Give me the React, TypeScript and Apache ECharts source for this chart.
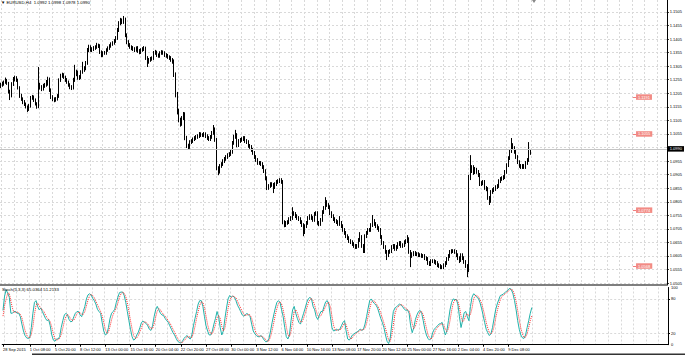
import React, { useEffect, useRef } from "react";
import * as echarts from "echarts";

// ---------- data ----------
const SLOTS = 423; // bar slots on the time axis (incl. empty chart shift area)

const tickIndex = [0, 17, 33, 49, 65, 81, 97, 113, 129, 145, 161, 177, 193, 209, 225, 241, 257, 273, 289, 305, 321];
const tickLabels = [
  "28 Sep 2015", "1 Oct 08:00", "5 Oct 20:00", "8 Oct 12:00", "13 Oct 00:00", "15 Oct 16:00",
  "20 Oct 04:00", "22 Oct 20:00", "27 Oct 08:00", "30 Oct 00:00", "3 Nov 12:00", "6 Nov 04:00",
  "10 Nov 16:00", "13 Nov 08:00", "17 Nov 20:00", "20 Nov 12:00", "25 Nov 00:00", "27 Nov 16:00",
  "2 Dec 04:00", "4 Dec 20:00", "9 Dec 08:00",
];

const priceTicks = [1.0505, 1.0555, 1.0605, 1.0655, 1.0705, 1.0755, 1.0805, 1.0855, 1.0905, 1.0955,
  1.1005, 1.1055, 1.1105, 1.1155, 1.1205, 1.1255, 1.1305, 1.1355, 1.1405, 1.1455, 1.1505];
const stochLabelValues = [0, 20, 80, 100];
const stochLevels = [20, 80];

const open = [
  1.1230,1.1236,1.1239,1.1247,1.1254,1.1243,1.1210,1.1195,1.1239,1.1258,
  1.1262,1.1254,1.1225,1.1195,1.1184,1.1173,1.1166,1.1155,1.1147,1.1158,
  1.1188,1.1191,1.1180,1.1166,1.1155,1.1236,1.1228,1.1221,1.1232,1.1236,
  1.1239,1.1258,1.1217,1.1191,1.1184,1.1180,1.1184,1.1195,1.1254,1.1269,
  1.1273,1.1265,1.1254,1.1247,1.1236,1.1228,1.1225,1.1254,1.1276,1.1284,
  1.1262,1.1265,1.1284,1.1291,1.1298,1.1317,1.1365,1.1376,1.1365,1.1368,
  1.1372,1.1376,1.1383,1.1380,1.1357,1.1346,1.1354,1.1354,1.1365,1.1372,
  1.1380,1.1387,1.1391,1.1398,1.1409,1.1439,1.1464,1.1475,1.1468,1.1479,
  1.1420,1.1394,1.1383,1.1376,1.1372,1.1368,1.1365,1.1372,1.1361,1.1357,
  1.1365,1.1368,1.1372,1.1335,1.1321,1.1328,1.1332,1.1335,1.1354,1.1357,
  1.1346,1.1343,1.1354,1.1357,1.1354,1.1346,1.1343,1.1339,1.1335,1.1328,
  1.1321,1.1273,1.1199,1.1136,1.1106,1.1092,1.1114,1.1129,1.1040,1.1011,
  1.1007,1.1025,1.1029,1.1036,1.1040,1.1044,1.1047,1.1055,1.1051,1.1051,
  1.1055,1.1047,1.1040,1.1036,1.1044,1.1059,1.1073,1.1033,1.0929,1.0915,
  1.0937,1.0944,1.0955,1.0963,1.0970,1.0977,1.0981,1.0989,1.1022,1.1044,
  1.1051,1.1014,1.1029,1.1033,1.1036,1.1040,1.1029,1.1025,1.1011,1.1007,
  1.0996,1.0985,1.0970,1.0959,1.0948,1.0948,1.0944,1.0933,1.0918,1.0892,
  1.0856,1.0863,1.0870,1.0867,1.0859,1.0870,1.0878,1.0881,1.0885,1.0878,
  1.0730,1.0719,1.0727,1.0730,1.0741,1.0745,1.0763,1.0760,1.0752,1.0745,
  1.0741,1.0730,1.0719,1.0693,1.0715,1.0727,1.0745,1.0752,1.0745,1.0738,
  1.0760,1.0763,1.0727,1.0723,1.0738,1.0767,1.0782,1.0804,1.0793,1.0785,
  1.0763,1.0752,1.0741,1.0734,1.0730,1.0723,1.0727,1.0715,1.0701,1.0690,
  1.0678,1.0671,1.0660,1.0656,1.0649,1.0642,1.0638,1.0642,1.0664,1.0675,
  1.0642,1.0623,1.0678,1.0690,1.0701,1.0701,1.0719,1.0734,1.0723,1.0715,
  1.0708,1.0701,1.0675,1.0653,1.0638,1.0620,1.0608,1.0620,1.0623,1.0638,
  1.0642,1.0631,1.0638,1.0649,1.0653,1.0642,1.0645,1.0656,1.0660,1.0667,
  1.0620,1.0605,1.0612,1.0616,1.0612,1.0612,1.0608,1.0608,1.0605,1.0605,
  1.0597,1.0594,1.0579,1.0575,1.0586,1.0586,1.0583,1.0579,1.0571,1.0568,
  1.0564,1.0564,1.0571,1.0579,1.0594,1.0605,1.0620,1.0623,1.0623,1.0620,
  1.0608,1.0597,1.0590,1.0608,1.0597,1.0583,1.0568,1.0553,1.0892,1.0922,
  1.0929,1.0915,1.0922,1.0915,1.0904,1.0870,1.0874,1.0878,1.0856,1.0852,
  1.0819,1.0808,1.0841,1.0848,1.0852,1.0859,1.0863,1.0881,1.0889,1.0892,
  1.0896,1.0915,1.0940,1.0966,1.0992,1.1014,1.1003,1.0989,1.0970,1.0951,
  1.0937,1.0933,1.0937,1.0933,1.0948,1.0959,1.0992,
];

const close = [
  1.1236,1.1239,1.1247,1.1254,1.1243,1.1210,1.1195,1.1239,1.1258,1.1262,
  1.1254,1.1225,1.1195,1.1184,1.1173,1.1166,1.1155,1.1147,1.1158,1.1188,
  1.1191,1.1180,1.1166,1.1155,1.1236,1.1228,1.1221,1.1232,1.1236,1.1239,
  1.1258,1.1217,1.1191,1.1184,1.1180,1.1184,1.1195,1.1254,1.1269,1.1273,
  1.1265,1.1254,1.1247,1.1236,1.1228,1.1225,1.1254,1.1276,1.1284,1.1262,
  1.1265,1.1284,1.1291,1.1298,1.1317,1.1365,1.1376,1.1365,1.1368,1.1372,
  1.1376,1.1383,1.1380,1.1357,1.1346,1.1354,1.1354,1.1365,1.1372,1.1380,
  1.1387,1.1391,1.1398,1.1409,1.1439,1.1464,1.1475,1.1468,1.1479,1.1420,
  1.1394,1.1383,1.1376,1.1372,1.1368,1.1365,1.1372,1.1361,1.1357,1.1365,
  1.1368,1.1372,1.1335,1.1321,1.1328,1.1332,1.1335,1.1354,1.1357,1.1346,
  1.1343,1.1354,1.1357,1.1354,1.1346,1.1343,1.1339,1.1335,1.1328,1.1321,
  1.1273,1.1199,1.1136,1.1106,1.1092,1.1114,1.1129,1.1040,1.1011,1.1007,
  1.1025,1.1029,1.1036,1.1040,1.1044,1.1047,1.1055,1.1051,1.1051,1.1055,
  1.1047,1.1040,1.1036,1.1044,1.1059,1.1073,1.1033,1.0929,1.0915,1.0937,
  1.0944,1.0955,1.0963,1.0970,1.0977,1.0981,1.0989,1.1022,1.1044,1.1051,
  1.1014,1.1029,1.1033,1.1036,1.1040,1.1029,1.1025,1.1011,1.1007,1.0996,
  1.0985,1.0970,1.0959,1.0948,1.0948,1.0944,1.0933,1.0918,1.0892,1.0856,
  1.0863,1.0870,1.0867,1.0859,1.0870,1.0878,1.0881,1.0885,1.0878,1.0730,
  1.0719,1.0727,1.0730,1.0741,1.0745,1.0763,1.0760,1.0752,1.0745,1.0741,
  1.0730,1.0719,1.0693,1.0715,1.0727,1.0745,1.0752,1.0745,1.0738,1.0760,
  1.0763,1.0727,1.0723,1.0738,1.0767,1.0782,1.0804,1.0793,1.0785,1.0763,
  1.0752,1.0741,1.0734,1.0730,1.0723,1.0727,1.0715,1.0701,1.0690,1.0678,
  1.0671,1.0660,1.0656,1.0649,1.0642,1.0638,1.0642,1.0664,1.0675,1.0642,
  1.0623,1.0678,1.0690,1.0701,1.0701,1.0719,1.0734,1.0723,1.0715,1.0708,
  1.0701,1.0675,1.0653,1.0638,1.0620,1.0608,1.0620,1.0623,1.0638,1.0642,
  1.0631,1.0638,1.0649,1.0653,1.0642,1.0645,1.0656,1.0660,1.0667,1.0620,
  1.0605,1.0612,1.0616,1.0612,1.0612,1.0608,1.0608,1.0605,1.0605,1.0597,
  1.0594,1.0579,1.0575,1.0586,1.0586,1.0583,1.0579,1.0571,1.0568,1.0564,
  1.0564,1.0571,1.0579,1.0594,1.0605,1.0620,1.0623,1.0623,1.0620,1.0608,
  1.0597,1.0590,1.0608,1.0597,1.0583,1.0568,1.0553,1.0892,1.0922,1.0929,
  1.0915,1.0922,1.0915,1.0904,1.0870,1.0874,1.0878,1.0856,1.0852,1.0819,
  1.0808,1.0841,1.0848,1.0852,1.0859,1.0863,1.0881,1.0889,1.0892,1.0896,
  1.0915,1.0940,1.0966,1.0992,1.1014,1.1003,1.0989,1.0970,1.0951,1.0937,
  1.0933,1.0937,1.0933,1.0948,1.0959,1.0992,1.0990,
];

const high = [
  1.1244,1.1248,1.1252,1.1263,1.1258,1.1247,1.1218,1.1246,1.1265,1.1270,
  1.1268,1.1259,1.1231,1.1203,1.1190,1.1180,1.1171,1.1160,1.1166,1.1195,
  1.1199,1.1197,1.1186,1.1172,1.1302,1.1244,1.1235,1.1240,1.1243,1.1254,
  1.1266,1.1263,1.1223,1.1198,1.1190,1.1191,1.1202,1.1260,1.1277,1.1281,
  1.1279,1.1270,1.1261,1.1252,1.1242,1.1235,1.1262,1.1310,1.1292,1.1289,
  1.1272,1.1290,1.1321,1.1305,1.1324,1.1372,1.1384,1.1382,1.1375,1.1379,
  1.1382,1.1391,1.1388,1.1386,1.1363,1.1360,1.1361,1.1371,1.1378,1.1386,
  1.1393,1.1397,1.1405,1.1416,1.1446,1.1471,1.1483,1.1481,1.1490,1.1484,
  1.1426,1.1401,1.1390,1.1382,1.1379,1.1375,1.1378,1.1379,1.1368,1.1371,
  1.1375,1.1379,1.1377,1.1342,1.1335,1.1339,1.1341,1.1361,1.1365,1.1362,
  1.1352,1.1360,1.1364,1.1363,1.1360,1.1353,1.1350,1.1345,1.1342,1.1335,
  1.1330,1.1282,1.1210,1.1148,1.1115,1.1121,1.1136,1.1135,1.1048,1.1019,
  1.1032,1.1036,1.1042,1.1047,1.1051,1.1054,1.1062,1.1061,1.1058,1.1062,
  1.1061,1.1054,1.1047,1.1051,1.1066,1.1088,1.1079,1.1040,1.0936,1.0944,
  1.0951,1.0962,1.0970,1.0977,1.0984,1.0988,1.0996,1.1029,1.1052,1.1070,
  1.1058,1.1036,1.1040,1.1043,1.1047,1.1047,1.1036,1.1032,1.1018,1.1014,
  1.1003,1.0992,1.0977,1.0966,1.0955,1.0955,1.0951,1.0940,1.0925,1.0899,
  1.0870,1.0877,1.0877,1.0874,1.0877,1.0885,1.0888,1.0892,1.0892,1.0885,
  1.0737,1.0734,1.0737,1.0748,1.0752,1.0785,1.0770,1.0767,1.0759,1.0752,
  1.0748,1.0737,1.0726,1.0722,1.0734,1.0752,1.0759,1.0759,1.0752,1.0767,
  1.0770,1.0770,1.0734,1.0745,1.0774,1.0789,1.0822,1.0811,1.0800,1.0792,
  1.0770,1.0759,1.0748,1.0741,1.0737,1.0752,1.0734,1.0722,1.0708,1.0697,
  1.0685,1.0678,1.0667,1.0663,1.0656,1.0649,1.0649,1.0671,1.0693,1.0682,
  1.0649,1.0685,1.0697,1.0708,1.0708,1.0726,1.0756,1.0741,1.0730,1.0722,
  1.0715,1.0708,1.0682,1.0660,1.0645,1.0627,1.0627,1.0630,1.0645,1.0649,
  1.0649,1.0645,1.0656,1.0660,1.0660,1.0652,1.0663,1.0667,1.0682,1.0674,
  1.0627,1.0619,1.0623,1.0623,1.0619,1.0619,1.0615,1.0615,1.0612,1.0612,
  1.0604,1.0601,1.0586,1.0593,1.0593,1.0593,1.0590,1.0586,1.0578,1.0575,
  1.0571,1.0578,1.0586,1.0601,1.0612,1.0627,1.0630,1.0630,1.0630,1.0627,
  1.0615,1.0604,1.0615,1.0615,1.0604,1.0590,1.0575,1.0904,1.0977,1.0940,
  1.0940,1.0933,1.0930,1.0922,1.0911,1.0881,1.0885,1.0885,1.0863,1.0859,
  1.0826,1.0848,1.0855,1.0859,1.0866,1.0870,1.0888,1.0896,1.0899,1.0903,
  1.0922,1.0947,1.0973,1.0999,1.1040,1.1021,1.1010,1.0996,1.0977,1.0958,
  1.0944,1.0944,1.0944,1.0955,1.0966,1.1025,1.0998,
];

const low = [
  1.1224,1.1229,1.1233,1.1240,1.1236,1.1204,1.1180,1.1190,1.1232,1.1249,
  1.1247,1.1219,1.1188,1.1177,1.1165,1.1158,1.1149,1.1136,1.1140,1.1152,
  1.1181,1.1173,1.1160,1.1148,1.1150,1.1219,1.1213,1.1215,1.1225,1.1229,
  1.1233,1.1210,1.1184,1.1176,1.1172,1.1174,1.1178,1.1188,1.1247,1.1262,
  1.1258,1.1247,1.1240,1.1229,1.1220,1.1217,1.1219,1.1247,1.1268,1.1255,
  1.1254,1.1258,1.1277,1.1284,1.1290,1.1310,1.1357,1.1358,1.1357,1.1361,
  1.1365,1.1369,1.1372,1.1350,1.1338,1.1339,1.1347,1.1347,1.1358,1.1365,
  1.1373,1.1380,1.1384,1.1391,1.1402,1.1431,1.1456,1.1460,1.1461,1.1412,
  1.1386,1.1376,1.1369,1.1364,1.1361,1.1357,1.1358,1.1354,1.1349,1.1350,
  1.1358,1.1361,1.1328,1.1302,1.1314,1.1321,1.1325,1.1328,1.1347,1.1339,
  1.1336,1.1336,1.1347,1.1347,1.1339,1.1336,1.1332,1.1328,1.1321,1.1314,
  1.1265,1.1190,1.1127,1.1098,1.1082,1.1085,1.1106,1.1032,1.1003,1.0996,
  1.1000,1.1018,1.1022,1.1029,1.1033,1.1037,1.1040,1.1044,1.1044,1.1044,
  1.1040,1.1033,1.1029,1.1029,1.1037,1.1052,1.1026,1.0921,1.0903,1.0909,
  1.0930,1.0937,1.0948,1.0956,1.0963,1.0970,1.0974,1.0982,1.1015,1.1037,
  1.1006,1.1007,1.1022,1.1026,1.1029,1.1022,1.1018,1.1004,1.1000,1.0989,
  1.0978,1.0963,1.0952,1.0941,1.0941,1.0937,1.0926,1.0911,1.0884,1.0848,
  1.0849,1.0856,1.0860,1.0837,1.0852,1.0863,1.0871,1.0874,1.0871,1.0722,
  1.0711,1.0712,1.0720,1.0723,1.0734,1.0738,1.0753,1.0745,1.0738,1.0734,
  1.0723,1.0712,1.0678,1.0686,1.0708,1.0720,1.0738,1.0738,1.0731,1.0731,
  1.0753,1.0720,1.0715,1.0716,1.0731,1.0760,1.0775,1.0786,1.0778,1.0756,
  1.0745,1.0734,1.0727,1.0723,1.0716,1.0716,1.0708,1.0694,1.0683,1.0671,
  1.0664,1.0653,1.0649,1.0642,1.0635,1.0631,1.0631,1.0635,1.0657,1.0635,
  1.0616,1.0616,1.0671,1.0683,1.0694,1.0694,1.0712,1.0716,1.0708,1.0701,
  1.0694,1.0668,1.0646,1.0631,1.0613,1.0590,1.0601,1.0613,1.0616,1.0631,
  1.0624,1.0624,1.0631,1.0642,1.0635,1.0635,1.0638,1.0649,1.0653,1.0613,
  1.0564,1.0598,1.0605,1.0605,1.0605,1.0601,1.0601,1.0598,1.0598,1.0590,
  1.0587,1.0572,1.0568,1.0568,1.0579,1.0576,1.0572,1.0564,1.0561,1.0557,
  1.0557,1.0557,1.0564,1.0572,1.0587,1.0598,1.0613,1.0616,1.0613,1.0601,
  1.0590,1.0579,1.0583,1.0590,1.0576,1.0561,1.0527,1.0546,1.0885,1.0911,
  1.0904,1.0907,1.0908,1.0896,1.0863,1.0863,1.0866,1.0849,1.0844,1.0812,
  1.0793,1.0801,1.0834,1.0841,1.0845,1.0852,1.0856,1.0874,1.0882,1.0885,
  1.0889,1.0908,1.0933,1.0959,1.0985,1.0996,1.0982,1.0963,1.0944,1.0930,
  1.0926,1.0926,1.0926,1.0926,1.0941,1.0952,1.0978,
];

const stochK = [
  60,85,96,90,83,55,55,58,58,55,
  55,49,36,24,16,12,11,12,30,55,
  74,77,67,61,64,58,52,46,42,44,
  33,17,8,6,10,10,14,30,42,52,
  55,52,44,40,41,49,55,58,58,52,
  49,58,67,80,87,89,87,81,77,71,
  62,58,55,39,24,17,19,30,46,55,
  58,62,74,83,91,92,92,86,74,58,
  42,27,14,8,10,17,22,30,39,41,
  39,37,33,27,25,33,49,61,67,61,
  55,52,51,46,42,39,33,27,21,17,
  11,6,4,3,6,11,14,16,12,10,
  17,33,46,58,71,77,77,67,49,33,
  24,17,17,24,36,46,58,49,30,17,
  24,46,64,80,86,83,85,83,77,69,
  64,58,52,50,52,55,52,49,36,24,
  19,16,14,14,16,12,8,5,6,11,
  24,39,52,64,74,77,74,61,49,30,
  14,10,17,42,61,67,55,46,39,36,
  46,55,64,74,80,83,80,67,61,49,
  44,52,58,58,67,75,77,71,49,30,
  24,25,27,25,27,33,39,42,24,10,
  8,12,17,19,21,22,25,27,25,27,
  36,49,64,77,80,75,72,69,64,55,
  46,39,30,17,6,2,11,36,58,64,
  66,69,71,69,66,62,60,61,55,33,
  21,30,44,52,58,60,55,42,27,17,
  11,8,11,21,27,30,33,36,37,39,
  27,17,24,42,61,74,80,79,79,71,
  49,30,42,56,58,49,42,67,83,89,
  87,83,81,74,64,52,39,27,21,16,
  19,30,46,61,71,79,86,87,89,91,
  94,96,99,96,89,77,61,42,27,17,
  12,11,17,30,42,55,65.0364,
];

const stochD = [
  50,68,80,90,90,76,64,56,57,57,
  56,53,47,36,25,17,13,12,18,32,
  53,69,73,68,64,61,58,52,47,44,
  40,31,19,10,8,9,11,18,29,41,
  50,53,50,45,42,43,48,54,57,56,
  53,53,58,68,78,85,88,86,82,76,
  70,64,58,51,39,27,20,22,32,44,
  53,58,65,73,83,89,92,90,84,73,
  58,42,28,16,11,12,16,23,30,37,
  40,39,36,32,28,28,36,48,59,63,
  61,56,53,50,46,42,38,33,27,22,
  16,11,7,4,4,7,10,14,14,13,
  13,20,32,46,58,69,75,74,64,50,
  35,25,19,19,26,35,47,51,46,32,
  24,29,45,63,77,83,85,84,82,76,
  70,64,58,53,51,52,53,52,46,36,
  26,20,16,15,15,14,12,8,6,7,
  14,25,38,52,63,72,75,71,61,47,
  31,18,14,23,40,57,61,56,47,40,
  40,46,55,64,73,79,81,77,69,59,
  51,48,51,56,61,67,73,74,66,50,
  34,26,25,26,26,28,33,38,35,25,
  14,10,12,16,19,21,23,25,26,26,
  29,37,50,63,74,77,76,72,68,63,
  55,47,38,29,18,8,6,16,35,53,
  63,66,69,70,69,66,63,61,59,50,
  36,28,32,42,51,57,58,52,41,29,
  18,12,10,13,20,26,30,33,35,37,
  34,28,23,28,42,59,72,78,79,76,
  66,50,40,43,52,54,50,53,64,80,
  86,86,84,79,73,63,52,39,29,21,
  19,22,32,46,59,70,79,84,87,89,
  91,94,96,97,95,87,76,60,43,29,
  19,13,13,19,30,42,51.2133,
];

const lastPrice = 1.099;
const levelPrices = [1.1191, 1.1055, 1.0774, 1.0568];
const headerText = "EURUSD,H4  1.0992 1.0998 1.0978 1.0990";
const stochHeader = "Stoch(5,3,3) 65.0364 51.2133";

// ---------- chart ----------
const FONT = "Liberation Sans, Arial, sans-serif";

export default function App() {
  const ref = useRef<HTMLDivElement>(null);

  useEffect(() => {
    if (!ref.current) return;
    const chart = echarts.init(ref.current, null, { renderer: "svg" });

    const categories = Array.from({ length: SLOTS }, (_, i) => String(i));
    const candles = open.map((o, i) => [o, close[i], low[i], high[i]]);
    const isTick = (i: number) => tickIndex.indexOf(i) >= 0;
    const isGrid = (i: number) => i % 8 === 1;

    const gridLine = { color: "#d9d9d9", type: [2, 2] as any, width: 1 };

    const levelLines = levelPrices.map((p) => [
      {
        coord: ["401", p],
        lineStyle: { color: "#f08080", type: "solid", width: 1 },
        label: {
          show: true,
          position: "end",
          formatter: p.toFixed(4),
          backgroundColor: "#f28b85",
          color: "#ffffff",
          fontSize: 4,
          fontFamily: FONT,
          padding: [1, 2, 0.5, 2],
          distance: 0,
        },
      },
      { coord: ["403", p] },
    ]);

    chart.setOption({
      animation: false,
      backgroundColor: "#ffffff",
      textStyle: { fontFamily: FONT },
      title: [
        {
          text: "▼ " + headerText,
          left: 1,
          top: 0,
          padding: 0,
          textStyle: { fontSize: 4.3, fontWeight: "normal", color: "#000", fontFamily: FONT },
        },
        {
          text: stochHeader,
          left: 2,
          top: 287.5,
          padding: 0,
          textStyle: { fontSize: 4.3, fontWeight: "normal", color: "#000", fontFamily: FONT },
        },
      ],
      grid: [
        { left: 0, top: 0, width: 668, height: 285 },
        { left: 0, top: 287.5, width: 668, height: 57.2 },
      ],
      xAxis: [
        {
          type: "category",
          gridIndex: 0,
          data: categories,
          boundaryGap: true,
          axisLine: { show: true, lineStyle: { color: "#555", width: 1.5 } },
          axisTick: { show: false },
          axisLabel: { show: false },
          splitLine: { show: true, interval: (i: number) => isGrid(i), lineStyle: gridLine },
        },
        {
          type: "category",
          gridIndex: 1,
          data: categories,
          boundaryGap: true,
          axisLine: { show: true, lineStyle: { color: "#000", width: 1 } },
          axisTick: { show: true, interval: (i: number) => isTick(i), length: 2, alignWithLabel: true, lineStyle: { color: "#000" } },
          axisLabel: {
            show: true,
            interval: (i: number) => isTick(i),
            formatter: (_v: string, i: number) => {
              const k = tickIndex.indexOf(i);
              return k >= 0 ? tickLabels[k] : "";
            },
            fontSize: 4,
            color: "#000",
            align: "left",
            margin: 3,
            fontFamily: FONT,
          },
          splitLine: { show: true, interval: (i: number) => isGrid(i), lineStyle: gridLine },
        },
      ],
      yAxis: [
        {
          type: "value",
          gridIndex: 0,
          position: "right",
          min: 1.0498,
          max: 1.1549,
          scale: true,
          axisLine: { show: true, onZero: false, lineStyle: { color: "#000", width: 1 } },
          axisTick: { show: true, length: 2, customValues: priceTicks, lineStyle: { color: "#000" } },
          axisLabel: {
            show: true,
            customValues: priceTicks,
            formatter: (v: number) => v.toFixed(4),
            fontSize: 4,
            color: "#000",
            margin: 3,
            fontFamily: FONT,
          },
          splitLine: { show: true, lineStyle: gridLine },
        },
        {
          type: "value",
          gridIndex: 1,
          position: "right",
          min: 0,
          max: 100,
          axisLine: { show: true, onZero: false, lineStyle: { color: "#000", width: 1 } },
          axisTick: { show: true, length: 2, customValues: stochLevels, lineStyle: { color: "#000" } },
          axisLabel: {
            show: true,
            customValues: stochLabelValues,
            fontSize: 4,
            color: "#000",
            margin: 3,
            fontFamily: FONT,
          },
          splitLine: { show: true, lineStyle: gridLine },
        },
      ],
      series: [
        {
          type: "candlestick",
          xAxisIndex: 0,
          yAxisIndex: 0,
          data: candles,
          barWidth: 1.2,
          itemStyle: {
            color: "#ffffff",
            color0: "#000000",
            borderColor: "#000000",
            borderColor0: "#000000",
            borderWidth: 1,
          },
          markLine: {
            silent: true,
            symbol: ["none", "none"],
            animation: false,
            data: [
              {
                yAxis: lastPrice,
                lineStyle: { color: "#c4c4c4", type: "solid", width: 1 },
                label: {
                  show: true,
                  position: "end",
                  formatter: lastPrice.toFixed(4),
                  backgroundColor: "#000",
                  color: "#fff",
                  fontSize: 4,
                  fontFamily: FONT,
                  padding: [1, 2, 0.5, 2],
                  distance: 1,
                },
              },
              ...levelLines,
            ],
          },
        },
        {
          type: "line",
          name: "%K",
          xAxisIndex: 1,
          yAxisIndex: 1,
          data: stochK,
          showSymbol: false,
          lineStyle: { color: "#20b2aa", width: 1 },
        },
        {
          type: "line",
          name: "%D",
          xAxisIndex: 1,
          yAxisIndex: 1,
          data: stochD,
          showSymbol: false,
          lineStyle: { color: "#ff3030", width: 1, type: [1, 1] },
        },
      ],
      graphic: [
        { type: "polygon", shape: { points: [[532, 0], [536, 0], [534, 3]] }, style: { fill: "#888" } },
        { type: "rect", shape: { x: 32, y: 353.5, width: 653, height: 1.5 }, style: { fill: "#333" } },
      ],
    });

    return () => chart.dispose();
  }, []);

  return (
    <div
      ref={ref}
      style={{ position: "absolute", left: 0, top: 0, width: 685, height: 355, background: "#fff" }}
    />
  );
}
